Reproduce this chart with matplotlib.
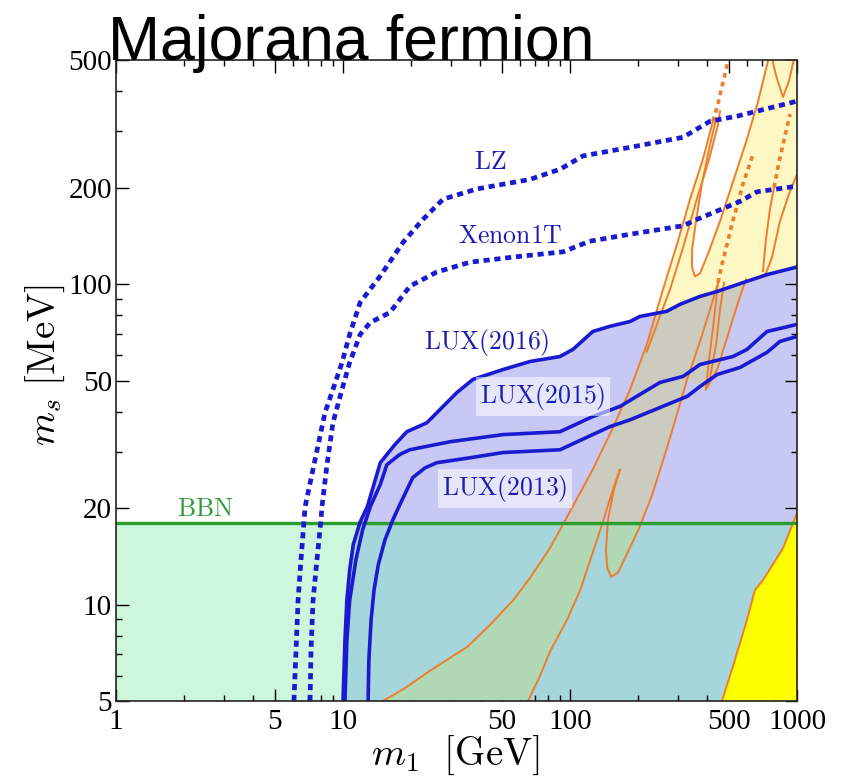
import numpy as np
import matplotlib.pyplot as plt
from matplotlib.patches import Polygon
from matplotlib.ticker import FixedLocator, NullFormatter

plt.rcParams['mathtext.fontset'] = 'cm'

# direct detection limits: m1 [GeV] vs ms [MeV]
lux16_m1 = [10.0, 10.2, 10.4, 10.7, 11.1, 11.9, 12.8, 14.6, 16.9, 19.1, 23.4, 31.8, 37.4, 50.7,
            66.6, 90.3, 103, 126, 150, 184, 203, 267, 305, 374, 445, 578, 738, 1000]
lux16_ms = [5.0, 7.75, 10.3, 12.8, 15.4, 18.1, 20.2, 27.7, 31.5, 34.6, 36.9, 45.9, 50.4, 54.1,
            57.3, 59.4, 62.5, 71.1, 73.8, 76.4, 79.2, 82.2, 86.4, 91.5, 94.8, 101, 107, 113]

lux15_m1 = [10.2, 10.4, 10.7, 11.4, 12.2, 13.2, 14.6, 15.6, 17.8, 19.7, 29.6, 50.7, 90.3, 126,
            166, 249, 315, 374, 522, 602, 738, 1000]
lux15_ms = [5.0, 7.75, 10.3, 13.8, 17.1, 20.2, 23.7, 27.3, 29.4, 30.4, 32.2, 33.9, 34.6, 38.6,
            41.5, 49.3, 51.5, 56.1, 59.4, 62.5, 71.1, 74.8]

lux13_m1 = [12.9, 13.0, 13.3, 13.7, 14.3, 15.3, 16.6, 17.8, 20.3, 23.0, 25.9, 36.3, 50.7, 90.3,
            150, 184, 328, 374, 445, 561, 738, 841, 1000]
lux13_ms = [5.0, 6.72, 8.96, 11.1, 13.3, 15.9, 18.4, 20.5, 24.9, 26.7, 27.7, 28.7, 29.8, 30.4,
            35.9, 37.7, 44.6, 47.9, 52.2, 54.9, 61.2, 66.2, 68.6]

lz_m1 = [6.08, 6.21, 6.34, 6.53, 6.74, 6.81, 7.53, 8.33, 9.03, 9.90, 10.7, 11.9, 14.6, 18.4,
         22.5, 27.6, 38.9, 66.6, 90.3, 114, 184, 315, 414, 544, 1000]
lz_ms = [5.0, 7.22, 10.3, 13.8, 18.4, 20.2, 28.3, 39.7, 46.9, 56.9, 69.6, 87.6, 106, 135,
         159, 184, 198, 212, 228, 251, 267, 287, 322, 334, 372]

xe_m1 = [7.16, 7.23, 7.38, 7.68, 8.0, 8.08, 8.50, 9.03, 9.90, 10.7, 11.9, 13.2, 16.1, 19.7,
         25.9, 36.3, 60.2, 93.1, 122, 184, 315, 362, 561, 667, 1000]
xe_ms = [5.0, 7.22, 10.3, 13.8, 18.4, 20.2, 27.3, 36.9, 46.9, 56.9, 69.6, 75.9, 81.5, 98.4,
         109, 117, 122, 126, 136, 143, 152, 159, 181, 194, 202]

bbn_ms = 18.0

# relic density contours
band_left_m1 = [15.0, 18.8, 23.4, 28.7, 35.2, 44.4, 56.1, 66.6, 81.6, 100, 126, 153, 184, 218,
                257, 296, 338, 385, 426]
band_left_ms = [5.0, 5.49, 6.12, 6.72, 7.37, 8.64, 10.3, 12.1, 15.0, 19.5, 26.4, 35.1, 46.9, 64.8,
                96.3, 133, 184, 245, 322]
chain1_m1 = [426, 445, 462, 482, 497]
chain1_ms = [322, 356, 400, 452, 497]
twin_m1 = [218, 237, 276, 318, 362, 410, 449, 458]
twin_ms = [61.6, 72.2, 96.3, 133, 184, 245, 315, 347]
u_m1 = [440, 410, 381, 359, 345, 345, 355, 374, 405, 458, 522, 596, 673, 745]
u_ms = [327, 264, 205, 157, 128, 112.7, 105.6, 108, 124, 157, 208, 277, 370, 497]
band_right_m1 = [65.3, 73.8, 81.6, 97, 111, 125, 136, 143, 152, 160, 166, 156, 147, 144, 146,
                 152, 163, 180, 203, 230, 262, 293, 328, 374, 414, 449]
band_right_ms = [5.0, 5.99, 7.12, 8.96, 11.1, 14.3, 17.1, 19.1, 22.0, 24.5, 26.4, 22.8, 18.4, 14.8,
                 13.0, 12.2, 12.6, 14.6, 17.5, 22.0, 29.4, 38.3, 50.4, 66.2, 83.4, 101]
chain2_m1 = [449, 467, 492, 517, 544, 578, 608, 640]
chain2_ms = [101, 115, 133, 154, 175, 205, 228, 254]
vloop_m1 = [449, 431, 410, 397, 414, 440, 458, 477]
vloop_ms = [101, 77.6, 58.2, 46.9, 51.1, 64.8, 83.4, 101]
edge_m1 = [397, 445, 497, 550, 596]
edge_ms = [46.9, 54.1, 69.6, 87.6, 103.5]
ru_left_m1 = [708, 730, 760, 792]
ru_left_ms = [109.6, 138, 171, 200]
chain3_m1 = [792, 825, 859, 895, 932]
chain3_ms = [200, 232, 264, 300, 339]
ru_right_m1 = [730, 776, 841, 922, 1000]
ru_right_ms = [108, 121, 157, 191, 220]
top_u_m1 = [776, 817, 868, 922, 970]
top_u_ms = [504, 436, 383, 430, 504]
corner_m1 = [467, 533, 602, 653, 708, 868, 1000]
corner_ms = [5.0, 6.72, 8.96, 11.1, 11.9, 15.0, 19.3]

c_bbn = '#cdf7dc'
c_lux = '#c8c8f4'
c_both = '#a6d5dc'
c_band = '#fdf7c3'
c_band_lux = '#cccbc0'
c_band_both = '#b0d8b4'
c_orange = '#ee7d2e'
c_blue = '#1a1ad0'
c_green = '#2a9d2a'

fig = plt.figure(figsize=(8.46, 7.81), dpi=100)
ax = fig.add_axes([116 / 846, 80 / 781, 681 / 846, 641 / 781])
ax.set_xscale('log')
ax.set_yscale('log')
ax.set_xlim(1, 1000)
ax.set_ylim(5, 500)

# excluded regions
ax.axhspan(5, bbn_ms, color=c_bbn, lw=0, zorder=1)
lux_up_x = lux16_m1 + [1000]
lux_up_y = [max(v, bbn_ms) for v in lux16_ms] + [bbn_ms]
lux_lo_x = lux16_m1 + [1000]
lux_lo_y = [min(v, bbn_ms) for v in lux16_ms] + [5]
ax.fill(lux_up_x, lux_up_y, color=c_lux, lw=0, zorder=1.5)
ax.fill(lux_lo_x, lux_lo_y, color=c_both, lw=0, zorder=1.5)

clip_up = Polygon(np.column_stack([lux_up_x, lux_up_y]), closed=True, transform=ax.transData)
clip_lo = Polygon(np.column_stack([lux_lo_x, lux_lo_y]), closed=True, transform=ax.transData)

# relic density band
lux_tail = [(x, y) for x, y in zip(lux16_m1, lux16_ms) if x > edge_m1[-1]][::-1]
band_x = (band_left_m1 + u_m1 + [1000] + [p[0] for p in lux_tail]
          + edge_m1[::-1] + band_right_m1[22::-1])
band_y = (band_left_ms + u_ms + [500] + [p[1] for p in lux_tail]
          + edge_ms[::-1] + band_right_ms[22::-1])
ax.fill(band_x, band_y, color=c_band, lw=0, zorder=2)
p = ax.fill(band_x, band_y, color=c_band_lux, lw=0, zorder=2.1)[0]
p.set_clip_path(clip_up)
p = ax.fill(band_x, band_y, color=c_band_both, lw=0, zorder=2.1)[0]
p.set_clip_path(clip_lo)

ax.fill(corner_m1 + [1000], corner_ms + [5], color='#ffff00', lw=0, zorder=2.5)

solid = dict(color=c_orange, lw=1.4, zorder=3)
dotted = dict(color=c_orange, lw=2.6, ls=(0, (1.3, 1.2)), zorder=3)
for xs, ys in [(band_left_m1, band_left_ms), (twin_m1, twin_ms), (u_m1, u_ms),
               (band_right_m1, band_right_ms), (vloop_m1, vloop_ms), (edge_m1, edge_ms),
               (ru_left_m1, ru_left_ms), (ru_right_m1, ru_right_ms), (top_u_m1, top_u_ms),
               (corner_m1, corner_ms)]:
    ax.plot(xs, ys, **solid)
for xs, ys in [(chain1_m1, chain1_ms), (chain2_m1, chain2_ms), (chain3_m1, chain3_ms)]:
    ax.plot(xs, ys, **dotted)

# limits
ax.axhline(bbn_ms, color=c_green, lw=2.4, zorder=5)
for xs, ys in [(lux16_m1, lux16_ms), (lux15_m1, lux15_ms), (lux13_m1, lux13_ms)]:
    ax.plot(xs, ys, color=c_blue, lw=2.6, zorder=5, solid_joinstyle='round')
for xs, ys in [(lz_m1, lz_ms), (xe_m1, xe_ms)]:
    ax.plot(xs, ys, color=c_blue, lw=3.4, ls=(0, (1.3, 1.0)), zorder=5)

lab = dict(color='#1a1ab4', fontsize=18.5, ha='center', va='center', zorder=6)
ax.text(44.4, 240, r'$\mathrm{LZ}$', **lab)
ax.text(54.4, 141, r'$\mathrm{Xenon1T}$', **lab)
ax.text(43.1, 65.7, r'$\mathrm{LUX(2016)}$', **lab)
ax.text(76.0, 44.6, r'$\mathrm{LUX(2015)}$',
        bbox=dict(facecolor='white', alpha=0.55, edgecolor='none', pad=3), **lab)
ax.text(51.7, 23.0, r'$\mathrm{LUX(2013)}$',
        bbox=dict(facecolor='white', alpha=0.55, edgecolor='none', pad=3), **lab)
ax.text(2.47, 19.8, r'$\mathrm{BBN}$', color='#2f9a3a', fontsize=18.5, ha='center',
        va='center', zorder=6)

# axes styling
xmaj = [1, 5, 10, 50, 100, 500, 1000]
ymaj = [5, 10, 20, 50, 100, 200, 500]
xmin = [d * m for d in (1, 10, 100) for m in range(2, 10) if d * m not in xmaj]
ymin = [6, 7, 8, 9, 30, 40, 60, 70, 80, 90, 300, 400]
ax.xaxis.set_major_locator(FixedLocator(xmaj))
ax.xaxis.set_minor_locator(FixedLocator(xmin))
ax.yaxis.set_major_locator(FixedLocator(ymaj))
ax.yaxis.set_minor_locator(FixedLocator(ymin))
ax.xaxis.set_minor_formatter(NullFormatter())
ax.yaxis.set_minor_formatter(NullFormatter())
ax.set_xticklabels([str(v) for v in xmaj])
ax.set_yticklabels([str(v) for v in ymaj])
ax.tick_params(which='both', direction='in', top=True, right=True, width=1.0,
               labelsize=21)
ax.tick_params(axis='x', pad=6)
ax.tick_params(axis='y', pad=3)
ax.tick_params(which='major', length=9)
ax.tick_params(which='minor', length=4.5)
for lbl in ax.get_xticklabels() + ax.get_yticklabels():
    lbl.set_family('Liberation Serif')
for s in ax.spines.values():
    s.set_linewidth(1.2)
    s.set_color('#222222')
    s.set_zorder(7)

fig.text(455 / 846, 1 - 755 / 781, r'$m_1\ \ [\mathrm{GeV}]$', fontsize=28,
         ha='center', va='center')
fig.text(45 / 846, 1 - 365 / 781, r'$m_s\ [\mathrm{MeV}]$', fontsize=28,
         ha='center', va='center', rotation=90)
fig.text(108 / 846, 1 - 60 / 781, 'Majorana fermion', fontsize=45,
         family='Liberation Sans', va='baseline')

fig.savefig('out.png', dpi=100)
